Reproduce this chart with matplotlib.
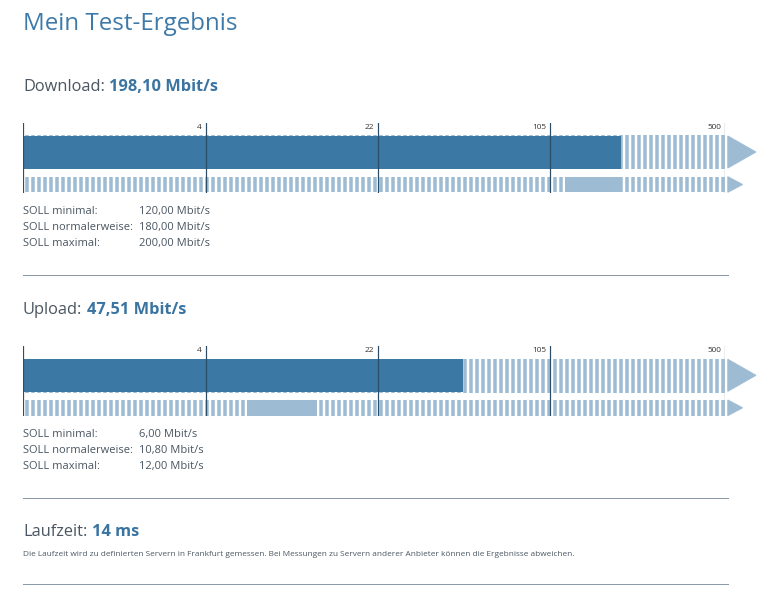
import matplotlib
matplotlib.use('Agg')
import matplotlib.pyplot as plt
import matplotlib.transforms as mtransforms
from matplotlib.patches import Polygon
import numpy as np

plt.rcParams['font.family'] = ['Open Sans', 'DejaVu Sans']
plt.rcParams['hatch.linewidth'] = 3.5

W, H, DPI = 771, 599, 72

# ---- Daten ----
SCALE_TICKS = [0, 4, 22, 105, 500]
SCALE_LABELS = ['4', '22', '105', '500']
SEG_POS = [0, 183, 355, 527, 702]      # Breite der Skalenabschnitte (px)

DOWNLOAD = 198.10
DOWNLOAD_SOLL = [120.00, 180.00, 200.00]
UPLOAD = 47.51
UPLOAD_SOLL = [6.00, 10.80, 12.00]
LATENCY_MS = 14
SOLL_LABELS = ['SOLL minimal:', 'SOLL normalerweise:', 'SOLL maximal:']
NOTE = ('Die Laufzeit wird zu definierten Servern in Frankfurt gemessen. '
        'Bei Messungen zu Servern anderer Anbieter können die Ergebnisse abweichen.')

DARK = '#3b78a3'
LIGHT = '#9dbcd3'
LINE = '#2b4d68'
TEXT = '#4a5661'
BOLD = '#3a74a1'
TITLE = '#3e7aa9'
SEP = '#8b9aa6'

_pos = np.array(SEG_POS, float) / SEG_POS[-1]
_logb = np.log(np.array(SCALE_TICKS[1:], float))


def fwd(x):
    x = np.asarray(x, float)
    lin = np.interp(x, SCALE_TICKS[:2], _pos[:2])
    lg = np.interp(np.log(np.maximum(x, 1e-6)), _logb, _pos[1:])
    return np.where(x < SCALE_TICKS[1], lin, lg)


def inv(y):
    y = np.asarray(y, float)
    lin = np.interp(y, _pos[:2], SCALE_TICKS[:2])
    lg = np.exp(np.interp(y, _pos[1:], _logb))
    return np.where(y < _pos[1], lin, lg)


def fmt(v):
    return f'{v:.2f}'.replace('.', ',')


fig = plt.figure(figsize=(W / DPI, H / DPI), dpi=DPI)
bg = fig.add_axes([0, 0, 1, 1])
bg.set_xlim(0, W)
bg.set_ylim(H, 0)
bg.axis('off')


def speed_panel(top, value, soll):
    ax = fig.add_axes([23 / W, 1 - (top + 70) / H, 702 / W, 70 / H])
    ax.set_xscale('function', functions=(fwd, inv))
    ax.set_xlim(SCALE_TICKS[0], SCALE_TICKS[-1])
    ax.set_ylim(70, 0)
    ax.axis('off')
    # gestreifter Hintergrund
    ax.barh([29.5, 61.8], [SCALE_TICKS[-1]] * 2, left=0, height=[34, 15.6],
            color='white', edgecolor=LIGHT, hatch='||', linewidth=0, zorder=1)
    ax.barh(29.8, value, left=0, height=33, color=DARK, zorder=2)
    ax.barh(61.8, soll[2] - soll[0], left=soll[0], height=15.6, color=LIGHT, zorder=2)
    for t in SCALE_TICKS:
        ax.axvline(t, color=LINE, lw=1.2, zorder=3)
    for t, lab in zip(SCALE_TICKS[1:], SCALE_LABELS):
        ax.annotate(lab, (t, 1), xycoords=('data', 'axes fraction'),
                    xytext=(-4, -4.8), textcoords='offset points',
                    ha='right', va='center', fontsize=8.3, color='#333333')
    trans = mtransforms.blended_transform_factory(ax.transAxes, ax.transData)
    ax.add_patch(Polygon([[1.004, 13.3], [1.044, 29.3], [1.004, 45.3]],
                         transform=trans, color=LIGHT, clip_on=False))
    ax.add_patch(Polygon([[1.004, 54.0], [1.025, 61.8], [1.004, 69.6]],
                         transform=trans, color=LIGHT, clip_on=False))


def header(y, label, value):
    t = bg.text(23, y, label, fontsize=16.4, color=TEXT, va='baseline')
    bg.annotate(value, xy=(1, 0), xycoords=t, xytext=(4.3, 0),
                textcoords='offset points', va='bottom', ha='left',
                fontsize=16.4, fontweight='bold', color=BOLD)


def soll_rows(y, soll):
    for i, (lab, v) in enumerate(zip(SOLL_LABELS, soll)):
        bg.text(23, y + i * 15.8, lab, fontsize=11.1, color=TEXT, va='baseline')
        bg.text(139.3, y + i * 15.8, f'{fmt(v)} Mbit/s', fontsize=11.1,
                color=TEXT, va='baseline')


bg.text(23, 29.5, 'Mein Test-Ergebnis', fontsize=24.1, color=TITLE,
        va='baseline')

header(91, 'Download:', f'{fmt(DOWNLOAD)} Mbit/s')
speed_panel(122.7, DOWNLOAD, DOWNLOAD_SOLL)
soll_rows(214, DOWNLOAD_SOLL)
bg.plot([23, 727.7], [275.3, 275.3], color=SEP, lw=1)

header(314, 'Upload:', f'{fmt(UPLOAD)} Mbit/s')
speed_panel(346, UPLOAD, UPLOAD_SOLL)
soll_rows(437, UPLOAD_SOLL)
bg.plot([23, 727.7], [497.5, 497.5], color=SEP, lw=1)

header(535.7, 'Laufzeit:', f'{LATENCY_MS} ms')
bg.text(23, 556, NOTE, fontsize=8.25, color=TEXT, va='baseline')
bg.plot([23, 727.7], [584, 584], color=SEP, lw=1)

fig.savefig('out.png', dpi=DPI)
